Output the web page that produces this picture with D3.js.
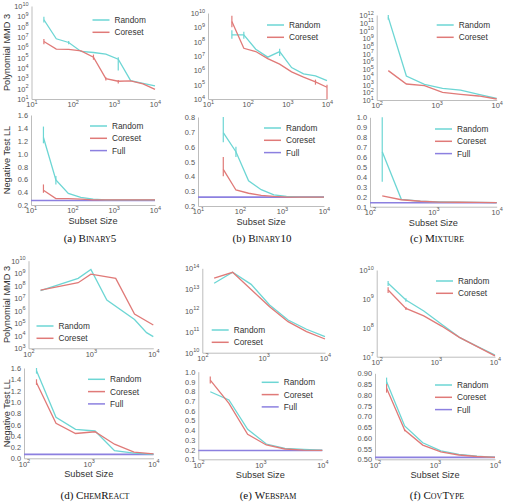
<!DOCTYPE html>
<html lang="en">
<head>
    <meta charset="UTF-8">
    <title>Coreset vs Random</title>
    <script src="https://d3js.org/d3.v7.min.js"></script>
    <style>
        body { margin: 0; background: #fff; font-family: "Liberation Sans", Arial, sans-serif; }
        .caption { font-family: "Liberation Serif", "Times New Roman", serif; }
        .caption .name { font-variant: small-caps; }
    </style>
</head>
<body>
    <svg id="chart" width="507" height="502"></svg>

    <script>
        // subset sizes
        const sizesBin5 = [20, 40, 80, 160, 320, 640, 1280, 2560, 5120, 10000];
        const sizesBin10 = [40, 80, 160, 320, 640, 1280, 2560, 5120, 10000];
        const sizesLarge = [156, 312, 625, 1250, 2500, 5000, 10000];
        const sizesChemRandom = [156, 625, 1000, 1800, 5000, 7800, 10000];
        const sizesChemCoreset = [156, 625, 1000, 2500, 5000, 10000];

        // MMD values are log10 of the polynomial MMD
        const bin5MmdRandom = [8.67, 6.83, 6.47, 5.6, 5.5, 5.34, 4.85, 2.78, 2.52, 2.26];
        const bin5MmdCoreset = [6.56, 5.83, 5.8, 5.66, 5.05, 2.97, 2.72, 2.75, 2.46, 1.94];
        const bin5MmdRandomErr = [[8.4, 8.95], null, [6.3, 6.62], null, null, null, [3.75, 5.05], null, null, null];
        const bin5MmdCoresetErr = [[6.3, 6.8], null, null, null, [4.8, 5.3], [2.8, 3.1], [2.5, 2.85], null, null, null];
        const bin5LlRandom = [1.25, 0.59, 0.38, 0.32, 0.29, 0.28, 0.28, 0.28, 0.28, 0.28];
        const bin5LlCoreset = [0.43, 0.3, 0.3, 0.29, 0.28, 0.28, 0.28, 0.28, 0.28, 0.28];
        const bin5LlRandomErr = [[1.16, 1.42], [0.52, 0.65], null, null, null, null, null, null, null, null];
        const bin5LlCoresetErr = [[0.39, 0.52], null, null, null, null, null, null, null, null, null];
        const bin5LlFull = 0.27;

        const bin10MmdRandom = [8.47, 8.47, 7.47, 6.92, 7.31, 6.19, 5.75, 5.61, 5.28];
        const bin10MmdCoreset = [9.41, 7.54, 7.31, 6.82, 6.43, 5.89, 5.52, 5.19, 4.82];
        const bin10MmdRandomErr = [[8.2, 8.8], [8.2, 8.7], null, null, [7.0, 7.5], null, null, null, null];
        const bin10MmdCoresetErr = [[9.0, 9.8], null, null, null, null, null, null, [5.0, 5.35], [4.0, 5.0]];
        const bin10LlRandom = [0.694, 0.566, 0.37, 0.31, 0.275, 0.265, 0.26, 0.26, 0.26];
        const bin10LlCoreset = [0.447, 0.308, 0.286, 0.272, 0.265, 0.26, 0.26, 0.26, 0.26];
        const bin10LlRandomErr = [[0.63, 0.8], [0.53, 0.6], null, null, null, null, null, null, null];
        const bin10LlCoresetErr = [[0.4, 0.53], null, null, null, null, null, null, null, null];
        const bin10LlFull = 0.26;

        const mixMmdRandom = [11.7, 4.1, 3.03, 2.51, 2.29, 1.74, 1.22];
        const mixMmdCoreset = [4.8, 3.07, 2.86, 2.0, 1.74, 1.52, 1.13];
        const mixMmdRandomErr = [[11.4, 12.0], null, null, null, null, null, null];
        const mixLlRandom = [0.654, 0.174, 0.155, 0.148, 0.145, 0.143, 0.142];
        const mixLlCoreset = [0.208, 0.17, 0.155, 0.147, 0.145, 0.143, 0.142];
        const mixLlRandomErr = [[0.35, 1.0], null, null, null, null, null, null];
        const mixLlFull = 0.14;

        const chemMmdRandom = [7.6, 8.59, 9.3, 6.86, 5.3, 4.25, 3.93];
        const chemMmdCoreset = [7.65, 8.24, 8.93, 8.59, 5.74, 4.86];
        const chemLlRandom = [1.55, 0.727, 0.514, 0.484, 0.135, 0.09, 0.07];
        const chemLlCoreset = [1.34, 0.62, 0.44, 0.47, 0.25, 0.11, 0.08];
        const chemLlRandomErr = [[1.5, 1.6], null, null, null, null, null, null];
        const chemLlCoresetErr = [[1.3, 1.4], null, null, null, null, null, null];
        const chemLlFull = 0.07;

        const webMmdRandom = [13.29, 13.81, 13.24, 12.26, 11.55, 11.11, 10.76];
        const webMmdCoreset = [13.53, 13.81, 13.0, 12.18, 11.47, 11.0, 10.65];
        const webLlRandom = [0.794, 0.709, 0.408, 0.257, 0.213, 0.203, 0.195];
        const webLlCoreset = [0.914, 0.675, 0.357, 0.247, 0.206, 0.195, 0.192];
        const webLlCoresetErr = [[0.88, 0.95], null, null, null, null, null, null];
        const webLlFull = 0.19;

        const covMmdRandom = [9.54, 8.96, 8.58, 8.12, 7.67, 7.36, 7.06];
        const covMmdCoreset = [9.31, 8.67, 8.41, 8.06, 7.67, 7.35, 7.03];
        const covMmdRandomErr = [[9.45, 9.62], [8.9, 9.02], null, null, null, null, null];
        const covMmdCoresetErr = [[9.2, 9.4], [8.62, 8.72], null, null, null, null, null];
        const covLlRandom = [0.861, 0.655, 0.577, 0.539, 0.523, 0.515, 0.509];
        const covLlCoreset = [0.83, 0.636, 0.566, 0.535, 0.52, 0.513, 0.509];
        const covLlRandomErr = [[0.85, 0.88], null, null, null, null, null, null];
        const covLlCoresetErr = [[0.81, 0.85], [0.63, 0.64], null, null, null, null, null];
        const covLlFull = 0.509;

        // tick settings
        const llTicksBin5 = d3.range(0.2, 1.61, 0.2);
        const llTicksBin10 = d3.range(0.2, 0.81, 0.1);
        const llTicksTenths = d3.range(0.1, 1.01, 0.1);
        const llTicksChem = d3.range(0, 1.61, 0.2);
        const llTicksCov = d3.range(0.5, 0.91, 0.05);

        const captions = [
            { x: 90, y: 242, label: "(a) ", name: "Binary5" },
            { x: 262, y: 242, label: "(b) ", name: "Binary10" },
            { x: 437, y: 242, label: "(c) ", name: "Mixture" },
            { x: 95, y: 499, label: "(d) ", name: "ChemReact" },
            { x: 268, y: 499, label: "(e) ", name: "Webspam" },
            { x: 437, y: 499, label: "(f) ", name: "CovType" }
        ];

        const colRandom = "#6dd6d4", colCoreset = "#e07a78", colFull = "#8c80e0";

        const pow = v => Math.pow(10, v);
        const errPow = e => e ? [pow(e[0]), pow(e[1])] : null;

        // panel layout (pixel box of each axes) plus data
        const panels = [
            { box: [31.5, 155, 6, 99], log: true, xd: [10, 1e4], yd: [1, 10], sizes: sizesBin5,
              random: bin5MmdRandom.map(pow), coreset: bin5MmdCoreset.map(pow),
              rErr: bin5MmdRandomErr.map(errPow), cErr: bin5MmdCoresetErr.map(errPow),
              ylabel: "Polynomial MMD 3", legend: [61, 14] },
            { box: [31, 155, 115, 205], log: false, xd: [10, 1e4], yd: [0.2, 1.6], ticks: llTicksBin5, fmt: ".1f", sizes: sizesBin5,
              random: bin5LlRandom, coreset: bin5LlCoreset, rErr: bin5LlRandomErr, cErr: bin5LlCoresetErr, full: bin5LlFull,
              ylabel: "Negative Test LL", xlabel: true, legend: [59, 11] },
            { box: [208, 327, 13, 99], log: true, xd: [10, 1e4], yd: [4, 10], sizes: sizesBin10,
              random: bin10MmdRandom.map(pow), coreset: bin10MmdCoreset.map(pow),
              rErr: bin10MmdRandomErr.map(errPow), cErr: bin10MmdCoresetErr.map(errPow), legend: [59, 12] },
            { box: [198, 324, 117, 206], log: false, xd: [10, 1e4], yd: [0.2, 0.8], ticks: llTicksBin10, fmt: ".1f", sizes: sizesBin10,
              random: bin10LlRandom, coreset: bin10LlCoreset, rErr: bin10LlRandomErr, cErr: bin10LlCoresetErr, full: bin10LlFull,
              xlabel: true, legend: [66, 11] },
            { box: [376.7, 496.7, 15, 100], log: true, xd: [100, 1e4], yd: [1, 12], sizes: sizesLarge,
              random: mixMmdRandom.map(pow), coreset: mixMmdCoreset.map(pow),
              rErr: mixMmdRandomErr.map(errPow), legend: [60, 10] },
            { box: [370, 496.7, 117.3, 206.7], log: false, xd: [100, 1e4], yd: [0.1, 1.0], ticks: llTicksTenths, fmt: ".1f", sizes: sizesLarge,
              random: mixLlRandom, coreset: mixLlCoreset, rErr: mixLlRandomErr, full: mixLlFull,
              xlabel: true, legend: [65, 11.7] },
            { box: [28.5, 153.3, 260.7, 348.3], log: true, xd: [100, 1e4], yd: [3, 10],
              rSizes: sizesChemRandom, cSizes: sizesChemCoreset,
              random: chemMmdRandom.map(pow), coreset: chemMmdCoreset.map(pow),
              ylabel: "Polynomial MMD 3", legend: [8, 65.3] },
            { box: [24, 153.5, 368, 458.3], log: false, xd: [100, 1e4], yd: [0, 1.6], ticks: llTicksChem, fmt: ".1f", sizes: sizesLarge,
              random: chemLlRandom, coreset: chemLlCoreset, rErr: chemLlRandomErr, cErr: chemLlCoresetErr, full: chemLlFull,
              ylabel: "Negative Test LL", xlabel: true, legend: [64, 11.3] },
            { box: [202.3, 325, 268.3, 352.7], log: true, xd: [100, 1e4], yd: [10, 14], sizes: sizesLarge,
              random: webMmdRandom.map(pow), coreset: webMmdCoreset.map(pow), legend: [9.4, 61.7] },
            { box: [198.3, 322.3, 371.7, 459.3], log: false, xd: [100, 1e4], yd: [0.1, 1.0], ticks: llTicksTenths, fmt: ".1f", sizes: sizesLarge,
              random: webLlRandom, coreset: webLlCoreset, cErr: webLlCoresetErr, full: webLlFull,
              xlabel: true, legend: [63.4, 10.6] },
            { box: [376.7, 495, 270, 356.7], log: true, xd: [100, 1e4], yd: [7, 10], sizes: sizesLarge,
              random: covMmdRandom.map(pow), coreset: covMmdCoreset.map(pow),
              rErr: covMmdRandomErr.map(errPow), cErr: covMmdCoresetErr.map(errPow), legend: [59.3, 11] },
            { box: [375, 495, 373.3, 459.3], log: false, xd: [100, 1e4], yd: [0.5, 0.9], ticks: llTicksCov, fmt: ".2f", sizes: sizesLarge,
              random: covLlRandom, coreset: covLlCoreset, rErr: covLlRandomErr, cErr: covLlCoresetErr, full: covLlFull,
              xlabel: true, legend: [60, 11.7] }
        ];

        const svg = d3.select("#chart");

        // label with a power of ten: "10" and a raised exponent
        function powerLabel(sel, d) {
            const e = Math.round(Math.log10(d));
            sel.text(null);
            sel.append("tspan").text("10");
            sel.append("tspan").attr("dy", -3.5).attr("font-size", 5.5).text(e);
        }

        function styleAxis(g) {
            g.attr("font-family", "'Liberation Sans', Arial, sans-serif").attr("font-size", 7.4);
            g.select(".domain").attr("stroke", "#bdbdbd").attr("stroke-width", 1);
            g.selectAll(".tick line").remove();
            g.selectAll(".tick text").attr("fill", "#555");
        }

        function drawPanel(p) {
            const [x0, x1, yTop, yBot] = p.box;
            const x = d3.scaleLog().domain(p.xd).range([x0, x1]);
            const y = p.log
                ? d3.scaleLog().domain([pow(p.yd[0]), pow(p.yd[1])]).range([yBot, yTop])
                : d3.scaleLinear().domain(p.yd).range([yBot, yTop]);

            const g = svg.append("g");

            // x axis
            const xTicks = d3.range(Math.log10(p.xd[0]), Math.log10(p.xd[1]) + 1).map(pow);
            const gx = g.append("g")
                .attr("transform", `translate(0,${yBot})`)
                .call(d3.axisBottom(x).tickValues(xTicks).tickSize(0).tickPadding(3));
            styleAxis(gx);
            gx.selectAll(".tick text").each(function (d) { powerLabel(d3.select(this), d); });

            // y axis
            let yAxis = d3.axisLeft(y).tickSize(0).tickPadding(3);
            if (p.log) {
                yAxis = yAxis.tickValues(d3.range(p.yd[0], p.yd[1] + 1).map(pow));
            } else {
                yAxis = yAxis.tickValues(p.ticks).tickFormat(d3.format(p.fmt));
            }
            const gy = g.append("g").attr("transform", `translate(${x0},0)`).call(yAxis);
            styleAxis(gy);
            gy.selectAll(".tick text").attr("dy", "0.35em");
            if (p.log) gy.selectAll(".tick text").each(function (d) { powerLabel(d3.select(this), d); });

            const line = d3.line().x(d => x(d[0])).y(d => y(d[1]));

            if (p.full !== undefined) {
                g.append("path")
                    .datum([[p.xd[0], p.full], [p.xd[1], p.full]])
                    .attr("d", line)
                    .attr("fill", "none").attr("stroke", colFull).attr("stroke-width", 1.6);
            }

            const series = [
                [p.random, p.rErr, colRandom, p.rSizes || p.sizes],
                [p.coreset, p.cErr, colCoreset, p.cSizes || p.sizes]
            ];
            series.forEach(([vals, errs, col, sizes]) => {
                const pts = vals.map((v, i) => [sizes[i], v]);
                g.append("path").datum(pts).attr("d", line)
                    .attr("fill", "none").attr("stroke", col).attr("stroke-width", 1.3);
                if (errs) {
                    g.selectAll(null)
                        .data(errs.map((e, i) => e ? { s: sizes[i], e } : null).filter(Boolean))
                        .join("line")
                        .attr("x1", d => x(d.s)).attr("x2", d => x(d.s))
                        .attr("y1", d => y(d.e[0])).attr("y2", d => y(d.e[1]))
                        .attr("stroke", col).attr("stroke-width", 1.2);
                }
            });

            // legend
            const entries = [["Random", colRandom], ["Coreset", colCoreset]];
            if (p.full !== undefined) entries.push(["Full", colFull]);
            const lg = g.append("g").attr("transform", `translate(${x0 + p.legend[0]},${yTop + p.legend[1]})`);
            entries.forEach(([name, col], i) => {
                lg.append("line").attr("x1", 0).attr("x2", 17).attr("y1", i * 12.3).attr("y2", i * 12.3)
                    .attr("stroke", col).attr("stroke-width", 1.5);
                lg.append("text").attr("x", 22).attr("y", i * 12.3).attr("dy", "0.35em")
                    .attr("font-size", 8.3).attr("fill", "#333").text(name);
            });

            if (p.ylabel) {
                svg.append("text")
                    .attr("transform", `translate(10,${(yTop + yBot) / 2}) rotate(-90)`)
                    .attr("text-anchor", "middle").attr("font-size", 9.2).attr("fill", "#333")
                    .text(p.ylabel);
            }
            if (p.xlabel) {
                svg.append("text")
                    .attr("x", (x0 + x1) / 2).attr("y", yBot + 19)
                    .attr("text-anchor", "middle").attr("font-size", 9.2).attr("fill", "#333")
                    .text("Subset Size");
            }
        }

        panels.forEach(drawPanel);

        captions.forEach(c => {
            const t = svg.append("text").attr("class", "caption")
                .attr("x", c.x).attr("y", c.y).attr("text-anchor", "middle")
                .attr("font-size", 11).attr("fill", "#111");
            t.append("tspan").text(c.label);
            t.append("tspan").attr("class", "name").text(c.name);
        });
    </script>
</body>
</html>
